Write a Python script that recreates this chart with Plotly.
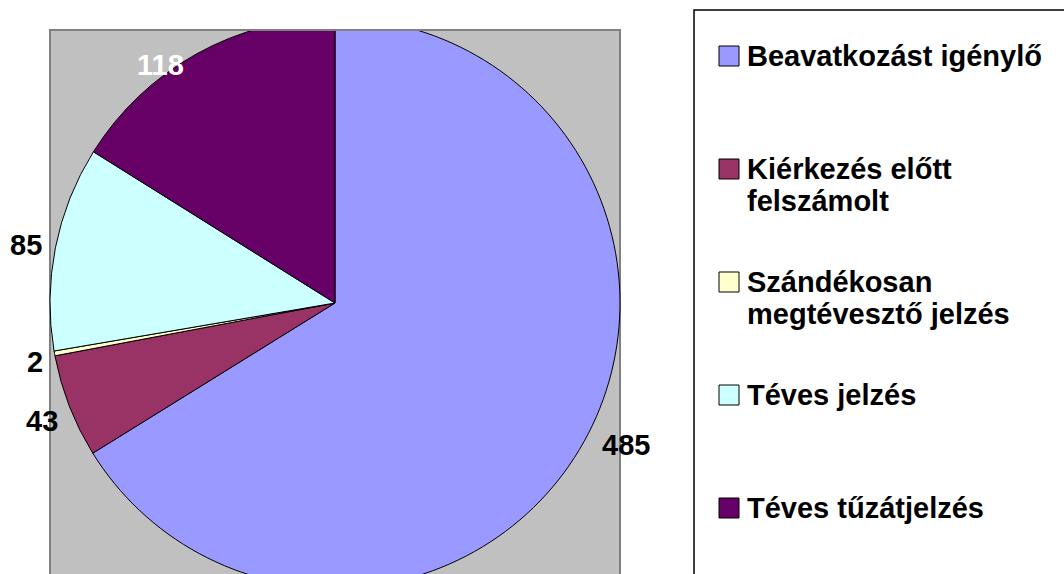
import math
import textwrap
import plotly.graph_objects as go

# ---- data ----
labels = ["Beavatkozást igénylő", "Kiérkezés előtt felszámolt",
          "Szándékosan megtévesztő jelzés", "Téves jelzés", "Téves tűzátjelzés"]
values = [485, 43, 2, 85, 118]
colors = ["#9999FF", "#993366", "#FFFFCC", "#CCFFFF", "#660066"]
label_font_colors = ["black", "black", "black", "black", "white"]

# ---- layout geometry (pixels) ----
W, H = 1064, 600
CX, CY, R = 335, 303, 285
PLOT_X0, PLOT_X1, PLOT_Y0 = 50, 620, 30
LEG_X0, LEG_Y0 = 694, 10
# label placement tweaks (style): radial distance and angle nudge
label_dist = [324, 316, 306, 314, 295]
label_angle_nudge = [-3.1, -0.6, -0.9, -0.6, -7.2]

FONT = "Arial, 'Liberation Sans', sans-serif"


def px(x):
    return x / W


def py(y):
    return 1 - y / H


fig = go.Figure()
fig.add_trace(go.Pie(
    labels=labels, values=values, sort=False, direction="clockwise", rotation=0,
    marker=dict(colors=colors, line=dict(color="black", width=1)),
    textinfo="none", hoverinfo="label+value", showlegend=False,
    domain=dict(x=[px(CX - R), px(CX + R)], y=[py(CY + R), py(CY - R)]),
))

shapes = [
    # grey plot area
    dict(type="rect", xref="paper", yref="paper", layer="below",
         x0=px(PLOT_X0), x1=px(PLOT_X1), y0=py(H + 40), y1=py(PLOT_Y0),
         fillcolor="#C0C0C0", line=dict(color="#808080", width=2)),
    # clip the pie at the top of the plot area
    dict(type="rect", xref="paper", yref="paper", layer="above",
         x0=0, x1=px(LEG_X0 - 4), y0=py(PLOT_Y0 - 1), y1=1.0,
         fillcolor="white", line=dict(width=0)),
    dict(type="line", xref="paper", yref="paper", layer="above",
         x0=px(PLOT_X0 - 1), x1=px(PLOT_X1 + 1), y0=py(PLOT_Y0), y1=py(PLOT_Y0),
         line=dict(color="#808080", width=2)),
    # legend box
    dict(type="rect", xref="paper", yref="paper", layer="below",
         x0=px(LEG_X0), x1=px(W + 20), y0=py(H + 40), y1=py(LEG_Y0),
         fillcolor="white", line=dict(color="black", width=1.5)),
]

annotations = []

# data labels computed from slice angles
total = sum(values)
cum = 0
for i, v in enumerate(values):
    mid = (cum + v / 2) / total * 360 + label_angle_nudge[i]
    cum += v
    a = math.radians(mid)
    lx = CX + label_dist[i] * math.sin(a)
    ly = CY - label_dist[i] * math.cos(a)
    annotations.append(dict(
        x=px(lx), y=py(ly), xref="paper", yref="paper", showarrow=False,
        text=str(v), xanchor="center", yanchor="middle",
        font=dict(family=FONT, size=29, color=label_font_colors[i], weight="bold"),
    ))

# custom legend
LEG_FIRST, LEG_STEP = 56, 113
MARK_X0, MARK_SIZE, TEXT_X = 719, 20, 745
LINE_H = 32
for i, lab in enumerate(labels):
    cy = LEG_FIRST + i * LEG_STEP
    shapes.append(dict(
        type="rect", xref="paper", yref="paper", layer="above",
        x0=px(MARK_X0), x1=px(MARK_X0 + MARK_SIZE),
        y0=py(cy + MARK_SIZE / 2), y1=py(cy - MARK_SIZE / 2),
        fillcolor=colors[i], line=dict(color="black", width=1)))
    for j, line in enumerate(textwrap.wrap(lab, 20)):
        annotations.append(dict(
            x=px(TEXT_X), y=py(cy + j * LINE_H), xref="paper", yref="paper",
            showarrow=False, text=line, xanchor="left", yanchor="middle",
            align="left",
            font=dict(family=FONT, size=29, color="black", weight="bold"),
        ))

fig.update_layout(
    width=W, height=H, autosize=False,
    margin=dict(l=0, r=0, t=0, b=0),
    paper_bgcolor="white", plot_bgcolor="white",
    shapes=shapes, annotations=annotations, showlegend=False,
)

fig.write_html(
    "out.html",
    config={"displayModeBar": False},
    post_script="document.body.style.margin='0';document.body.style.overflow='hidden';",
)
